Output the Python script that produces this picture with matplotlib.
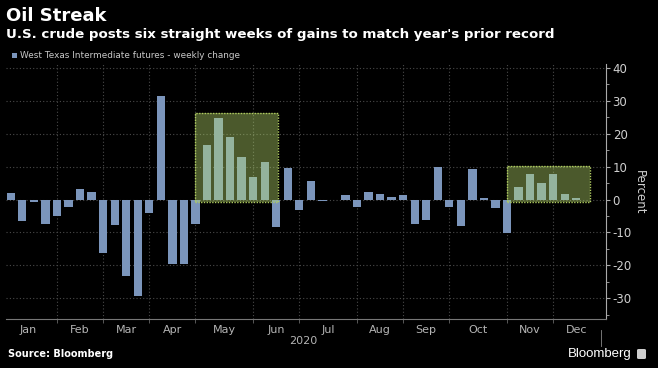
import matplotlib
matplotlib.use("Agg")
import matplotlib.pyplot as plt
import matplotlib.patches as mpatches
from matplotlib.ticker import MultipleLocator, FixedLocator, NullFormatter, FixedFormatter
import numpy as np
import pandas as pd

# weekly WTI change, Fridays Jan 3 .. Dec 11, 2020
weeks = pd.date_range("2020-01-03", periods=50, freq="W-FRI")
changes = [2.0, -6.4, -0.8, -7.4, -4.9, -2.3, 3.3, 2.3, -16.1, -7.7,
           -23.1, -29.3, -4.1, 31.4, -19.6, -19.6, -7.3, 16.5, 24.8, 18.9,
           12.9, 6.7, 11.4, -8.3, 9.6, -3.3, 5.5, -0.5, -0.2, 1.5,
           -2.4, 2.2, 1.7, 0.8, 1.3, -7.4, -6.2, 10.0, -2.2, -8.0,
           9.4, 0.6, -2.5, -10.2, 3.7, 7.9, 5.0, 7.9, 1.6, 0.6]
streaks = [(17, 22, 26.2), (44, 49, 10.1)]  # first/last week index, box top
month_names = ["Jan", "Feb", "Mar", "Apr", "May", "Jun",
               "Jul", "Aug", "Sep", "Oct", "Nov", "Dec"]

BG = "black"
BAR = "#7b95bb"
GRID = "#4a4a4a"
TXT = "#b4b4b4"

fig = plt.figure(figsize=(6.58, 3.68), dpi=100, facecolor=BG)
W, H = 658, 368
ax = fig.add_axes([6 / W, (H - 319.3) / H, (605.7 - 6) / W, (319.3 - 64.3) / H])
ax.set_facecolor(BG)

x = np.arange(len(changes))
ax.bar(x, changes, width=0.72, color=BAR, zorder=2)

# highlight boxes over the winning streaks
for start, end, top in streaks:
    ax.add_patch(mpatches.Rectangle((start - 1.0, -0.6), end - start + 2.15, top + 0.6,
                                    facecolor="#bce170", alpha=0.4, edgecolor="none", zorder=3))
    ax.add_patch(mpatches.Rectangle((start - 1.0, -0.6), end - start + 2.15, top + 0.6,
                                    facecolor="none", edgecolor="#b0cc60", linewidth=1.0,
                                    linestyle=(0, (1, 1)), zorder=4))

# month boundaries at last Friday of each month
months = weeks.month.values
bounds = [i for i in range(len(weeks) - 1) if months[i + 1] != months[i]]
edges = [-1] + bounds + [len(weeks) + 1]
centers = [(edges[k] + edges[k + 1]) / 2 for k in range(12)]

ax.set_xlim(-0.416, 51.55)
ax.set_ylim(-36.4, 41.1)

ax.xaxis.set_major_locator(FixedLocator(bounds))
ax.xaxis.set_major_formatter(NullFormatter())
ax.xaxis.set_minor_locator(FixedLocator(centers))
ax.xaxis.set_minor_formatter(FixedFormatter(month_names))
ax.tick_params(axis="x", which="major", length=3, color="#666666", width=0.6)
ax.tick_params(axis="x", which="minor", length=0, labelsize=8, labelcolor=TXT, pad=4)

ax.yaxis.tick_right()
ax.yaxis.set_label_position("right")
ax.yaxis.set_minor_locator(MultipleLocator(5))
ax.set_yticks(range(-30, 41, 10))
ax.set_yticklabels([str(v) for v in range(-30, 41, 10)])
ax.tick_params(axis="y", which="major", length=3, color="#aaaaaa", width=0.8,
               labelsize=8.5, labelcolor="#d0d0d0", pad=2)
ax.tick_params(axis="y", which="minor", length=2, color="#aaaaaa", width=0.6)
ax.set_ylabel("Percent", rotation=270, color="#d0d0d0", fontsize=8.5, labelpad=10)

ax.grid(axis="both", which="major", color=GRID, linestyle=(0, (1, 2)), linewidth=0.8, zorder=0)
ax.set_axisbelow(True)

for s in ["top", "left"]:
    ax.spines[s].set_visible(False)
ax.spines["right"].set_color("#aaaaaa")
ax.spines["right"].set_linewidth(0.8)
ax.spines["bottom"].set_color("#777777")
ax.spines["bottom"].set_linewidth(0.8)

# titles
fig.text(6 / W, (H - 20.7) / H, "Oil Streak", color="white", fontsize=13,
         fontweight="bold", va="baseline")
fig.text(6 / W, (H - 37.7) / H,
         "U.S. crude posts six straight weeks of gains to match year's prior record",
         color="white", fontsize=9.65, fontweight="bold", va="baseline")

# legend
fig.patches.append(mpatches.Rectangle((12 / W, (H - 57.5) / H), 5 / W, 5 / H,
                                      facecolor=BAR, transform=fig.transFigure, figure=fig))
fig.text(19.5 / W, (H - 55) / H, "West Texas Intermediate futures - weekly change",
         color="#c8c8c8", fontsize=6.4, va="center")

fig.text(303 / W, (H - 341) / H, "2020", color=TXT, fontsize=8, ha="center", va="center")
fig.text(8 / W, (H - 354) / H, "Source: Bloomberg", color="white", fontsize=7,
         fontweight="bold", va="center")

# Bloomberg mark
fig.add_artist(plt.Line2D([600.5 / W, 600.5 / W], [(H - 330) / H, (H - 346) / H],
                          color="#888888", linewidth=0.6))
fig.text(632 / W, (H - 354) / H, "Bloomberg", color="white", fontsize=9.5,
         ha="right", va="center", family="Liberation Sans")
fig.patches.append(mpatches.FancyBboxPatch((637 / W, (H - 359) / H), 9 / W, 10 / H,
                                           boxstyle="round,pad=0,rounding_size=0.003",
                                           facecolor="#cfcfcf", edgecolor="none",
                                           transform=fig.transFigure, figure=fig))

fig.savefig("out.png", dpi=100, facecolor=BG)
